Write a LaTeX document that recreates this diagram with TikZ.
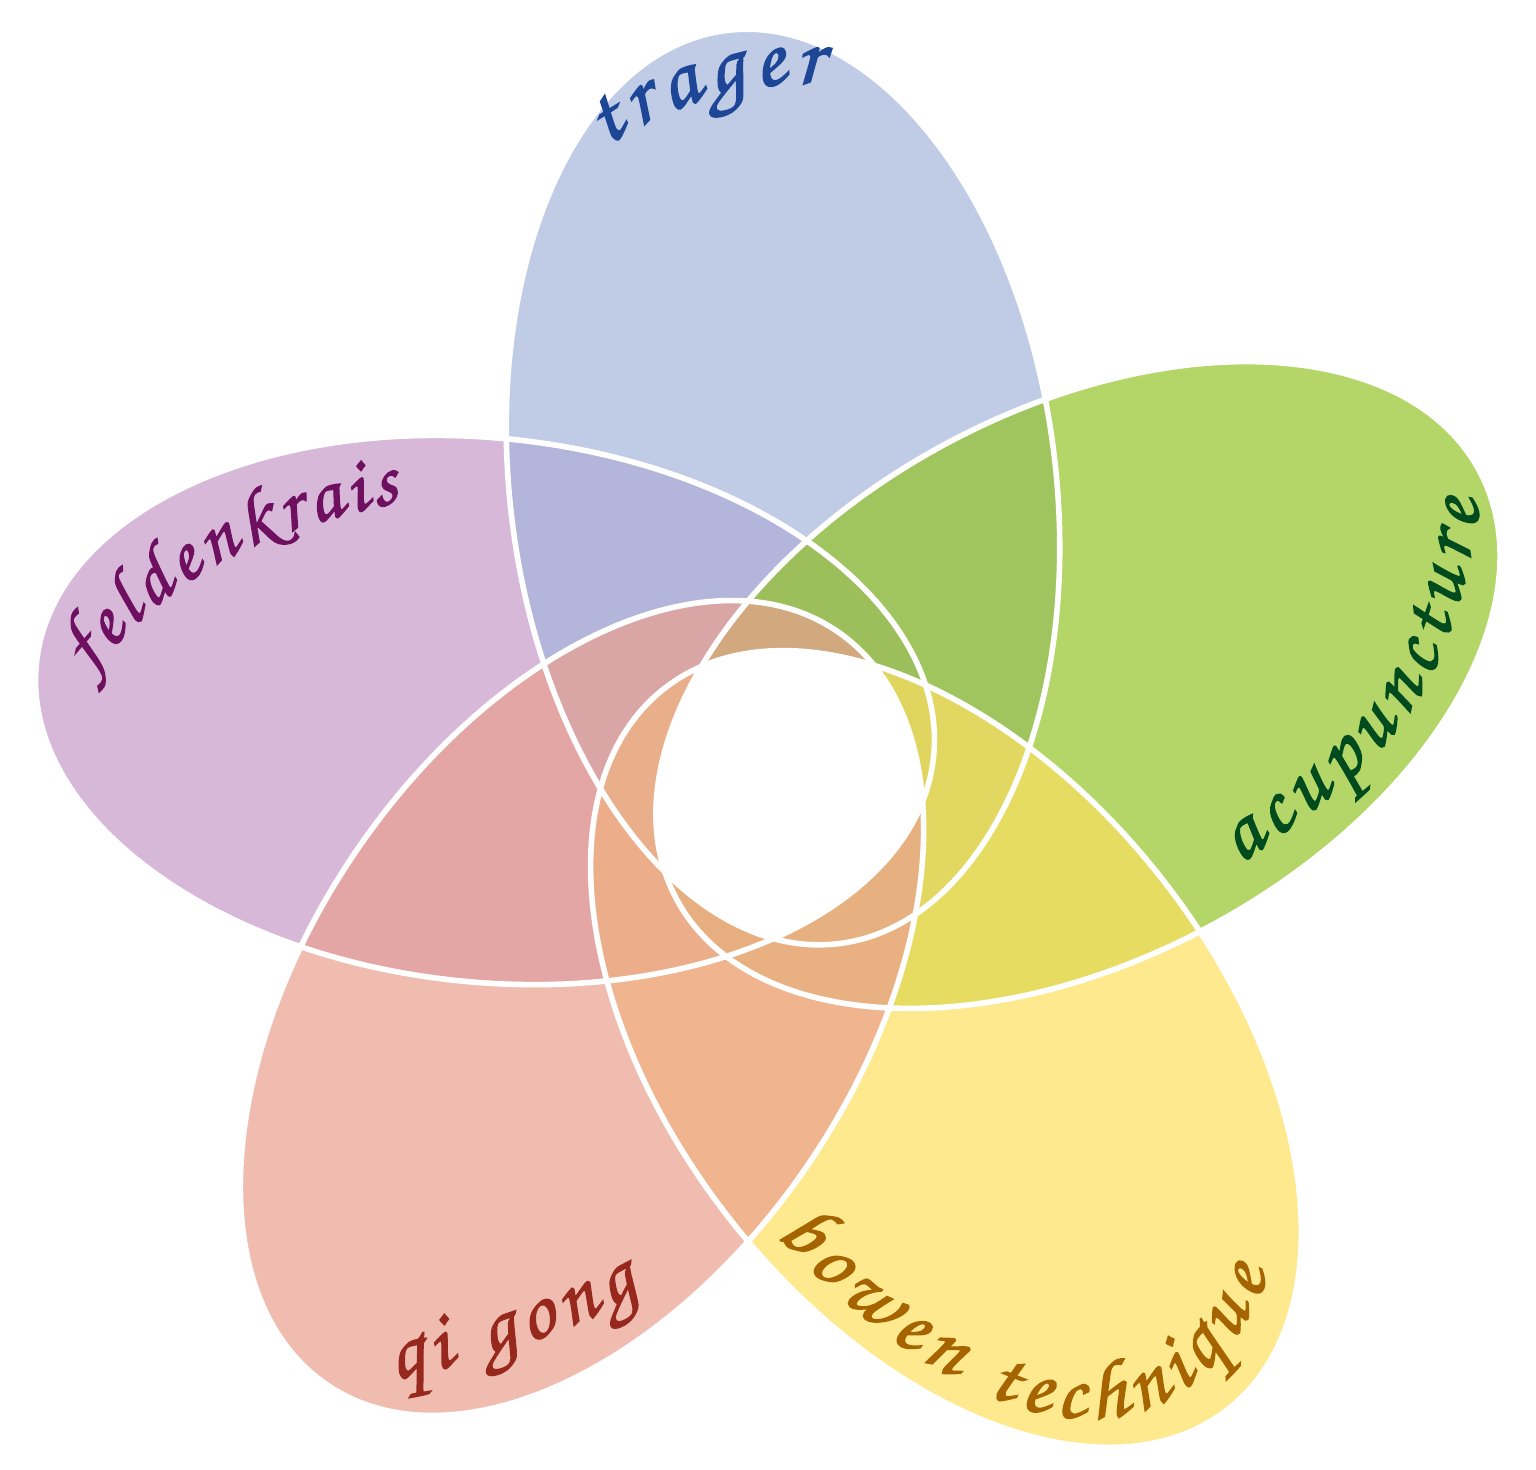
\documentclass[tikz,border=0pt]{standalone}
\usepackage{fontspec}
\usetikzlibrary{decorations.text}
\newfontfamily\calli{texgyrechorus-mediumitalic.otf}[FakeBold=1.6]
\definecolor{cPur}{RGB}{198,154,199}
\definecolor{cBlu}{RGB}{165,181,219}
\definecolor{cGrn}{RGB}{148,195,38}
\definecolor{cYel}{RGB}{254,224,96}
\definecolor{cRed}{RGB}{234,159,142}
\definecolor{tBlu}{RGB}{30,70,150}
\definecolor{tPur}{RGB}{110,15,95}
\definecolor{tGrn}{RGB}{0,75,30}
\definecolor{tYel}{RGB}{165,100,0}
\definecolor{tRed}{RGB}{150,40,30}
\begin{document}
\begin{tikzpicture}[x=0.25pt,y=-0.25pt,
  petBlu/.style={shift={(783,487)},rotate=97},
  petPur/.style={shift={(485,710)},rotate=174},
  petGrn/.style={shift={(1078,685)},rotate=28},
  petYel/.style={shift={(946,1049)},rotate=-52},
  petRed/.style={shift={(582,1008)},rotate=236},
  petalfill/.style={fill opacity=0.7},
  border/.style={draw=white,line width=1.4pt},
  lbl/.style n args={3}{decorate,decoration={text along path,text align=fit to path,text color=#1,
      text={|\calli\fontsize{#2}{#2}\selectfont|#3}}}
]
\useasboundingbox (0,0) rectangle (1536,1470);
% petals
\fill[petalfill,cPur,petPur] (0,0) ellipse [x radius=451, y radius=272];
\fill[petalfill,cBlu,petBlu] (0,0) ellipse [x radius=460, y radius=273];
\fill[petalfill,cGrn,petGrn] (0,0) ellipse [x radius=455, y radius=275];
\fill[petalfill,cYel,petYel] (0,0) ellipse [x radius=457.5, y radius=275];
\fill[petalfill,cRed,petRed] (0,0) ellipse [x radius=455, y radius=275];
% white centre
\begin{scope}
\clip[petPur] (0,0) ellipse [x radius=451, y radius=272];
\clip[petBlu] (0,0) ellipse [x radius=460, y radius=273];
\clip[petGrn] (0,0) ellipse [x radius=455, y radius=275];
\clip[petYel] (0,0) ellipse [x radius=457.5, y radius=275];
\clip[petRed] (0,0) ellipse [x radius=455, y radius=275];
\fill[white] (0,0) rectangle (1536,1470);
\end{scope}
% borders
\draw[border,petPur] (0,0) ellipse [x radius=451, y radius=272];
\draw[border,petBlu] (0,0) ellipse [x radius=460, y radius=273];
\draw[border,petGrn] (0,0) ellipse [x radius=455, y radius=275];
\draw[border,petYel] (0,0) ellipse [x radius=457.5, y radius=275];
\draw[border,petRed] (0,0) ellipse [x radius=455, y radius=275];
% label baselines
\coordinate (tr0) at (605,147);   \coordinate (tr1) at (822,84);
\coordinate (fe0) at (90,674);    \coordinate (fe1) at (400,502);
\coordinate (ac0) at (1240,864);  \coordinate (ac1) at (1480,503);
\coordinate (bo0) at (776,1234);  \coordinate (bo1) at (1268,1276);
\coordinate (qi0) at (394,1380);  \coordinate (qi1) at (640,1294);
% labels
\path[lbl={tBlu}{22}{trager}] (tr0) .. controls (676,101) and (748,80) .. (tr1);
\path[lbl={tPur}{19.5}{feldenkrais}] (fe0) .. controls (176,570) and (258,532) .. (fe1);
\path[lbl={tGrn}{21}{acupuncture}] (ac0) .. controls (1400,751) and (1448,697) .. (ac1);
\path[lbl={tYel}{21}{bowen technique}] (bo0) .. controls (952,1422) and (1168,1514) .. (bo1);
\path[lbl={tRed}{21}{qi gong}] (qi0) .. controls (476,1363) and (566,1333) .. (qi1);
\end{tikzpicture}
\end{document}
